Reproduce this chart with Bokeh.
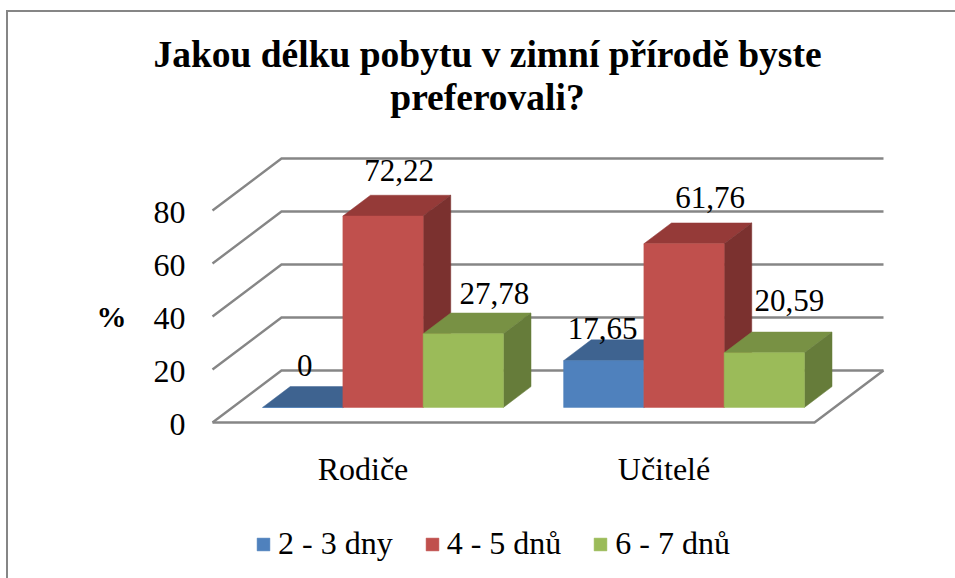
from bokeh.plotting import figure
from bokeh.models import Range1d, LinearAxis, FixedTicker, Legend, LegendItem, Title
from bokeh.core.properties import value
from bokeh.embed import file_html
from bokeh.resources import INLINE

categories = ["Rodiče", "Učitelé"]
series_names = ["2 - 3 dny", "4 - 5 dnů", "6 - 7 dnů"]
dny_2_3 = [0, 17.65]
dny_4_5 = [72.22, 61.76]
dny_6_7 = [27.78, 20.59]
y_ticks = [0, 20, 40, 60, 80]
title_lines = ["Jakou délku pobytu v zimní přírodě byste", "preferovali?"]

FONT = "Liberation Serif"
GRID = "#868686"
PX_X = 301.0   # pixels per category
PX_Y = 2.65    # pixels per percent
DEPTH_X = 69 / PX_X
DEPTH_Y = 52 / PX_Y
Z0, Z1 = 0.29, 0.69
BAR_W = 0.8 / 3
GAP = 0.1
FILLS = [("#4F81BD", "#3E6390", "#375A82"),
         ("#C0504D", "#953A38", "#7B312F"),
         ("#9BBB59", "#789144", "#667C3A")]

Y_START = (422 - 578) / PX_Y
Y_END = (422 - 117) / PX_Y
LABEL_SHIFT = 2 / PX_Y   # tick labels sit slightly lower than the tick position

p = figure(width=947, height=566, output_backend="svg", toolbar_location=None,
           x_axis_type=None, y_axis_type=None,
           x_range=Range1d((19 - 212) / PX_X, (955 - 212) / PX_X),
           y_range=Range1d(Y_START, Y_END),
           min_border_left=11, min_border_right=0, min_border_top=105, min_border_bottom=0,
           outline_line_color=None, margin=(12, 0, 0, 8),
           styles={"box-shadow": f"-2px 0 0 {GRID}, 0 -2px 0 {GRID}, -2px -2px 0 {GRID}"})
p.extra_y_ranges = {"ticklabels": Range1d(Y_START + LABEL_SHIFT, Y_END + LABEL_SHIFT)}
p.grid.visible = False

for line in reversed(title_lines):
    p.add_layout(Title(text=line, align="center", text_font=FONT, text_font_size="37.5px",
                       text_font_style="bold", text_color="black", standoff=0), "above")

# wall grid lines and floor
n = len(categories)
xs = [[0, DEPTH_X, n + DEPTH_X] for _ in y_ticks]
ys = [[v, v + DEPTH_Y, v + DEPTH_Y] for v in y_ticks]
xs.append([0, n, n + DEPTH_X])
ys.append([0, 0, DEPTH_Y])
p.multi_line(xs, ys, line_color=GRID, line_width=2.4, line_join="miter")

# bars
items = []
labels_x, labels_y, labels_t = [], [], []
for j, (name, vals) in enumerate(zip(series_names, [dny_2_3, dny_4_5, dny_6_7])):
    front, top, side = FILLS[j]
    x0 = [i + GAP + j * BAR_W + Z0 * DEPTH_X for i in range(n)]
    x1 = [a + BAR_W for a in x0]
    b = Z0 * DEPTH_Y
    ddx = (Z1 - Z0) * DEPTH_X
    ddy = (Z1 - Z0) * DEPTH_Y
    tops = [b + v for v in vals]
    p.patches([[a, c, c + ddx, a + ddx] for a, c in zip(x0, x1)],
              [[h, h, h + ddy, h + ddy] for h in tops],
              fill_color=top, line_color=top, line_width=0.5)
    p.patches([[c, c + ddx, c + ddx, c] for c in x1],
              [[b, b + ddy, h + ddy, h] for h in tops],
              fill_color=side, line_color=side, line_width=0.5)
    r = p.quad(left=x0, right=x1, bottom=[b] * n, top=tops,
               fill_color=front, line_color=front, line_width=0.5)
    items.append(LegendItem(label=name, renderers=[r]))
    for a, v, h in zip(x0, vals, tops):
        labels_x.append(a + BAR_W / 2)
        labels_y.append(h)
        labels_t.append("0" if v == 0 else f"{v:.2f}".replace(".", ","))

# data labels, hand-placed in the source chart (series by series)
nudge_x = [2, -1, 16, 26, 31, 25]
nudge_y = [-42, -32, -46, -46, -40, -52]
p.text(labels_x, labels_y, text=labels_t, x_offset=nudge_x, y_offset=nudge_y,
       text_font=value(FONT), text_font_size="31px", text_color="black",
       text_align="center", text_baseline="middle")

p.text([-101 / PX_X], [40], text=["%"], text_font=value(FONT), text_font_size="30px",
       text_font_style="bold", text_color="black", text_align="center", text_baseline="middle")

ya = LinearAxis(ticker=FixedTicker(ticks=y_ticks), fixed_location=0, y_range_name="ticklabels")
ya.axis_line_color = None
ya.major_tick_line_color = None
ya.minor_tick_line_color = None
ya.major_label_standoff = 21
ya.major_label_text_font = FONT
ya.major_label_text_font_size = "32px"
ya.major_label_text_color = "black"
p.add_layout(ya, "left")

centers = [i + 0.5 for i in range(n)]
xa = LinearAxis(ticker=FixedTicker(ticks=centers), fixed_location=0,
                major_label_overrides={c: s for c, s in zip(centers, categories)})
xa.axis_line_color = None
xa.major_tick_line_color = None
xa.minor_tick_line_color = None
xa.major_label_standoff = 22
xa.major_label_text_font = FONT
xa.major_label_text_font_size = "32px"
xa.major_label_text_color = "black"
p.add_layout(xa, "below")

leg = Legend(items=items, orientation="horizontal", location=(236, 16),
             glyph_width=16, glyph_height=16, label_text_font=FONT,
             label_text_font_size="32px", label_text_color="black",
             background_fill_alpha=0, border_line_color=None,
             padding=0, margin=0, spacing=31, label_standoff=7)
p.add_layout(leg)

open("out.html", "w").write(file_html(p, INLINE))
